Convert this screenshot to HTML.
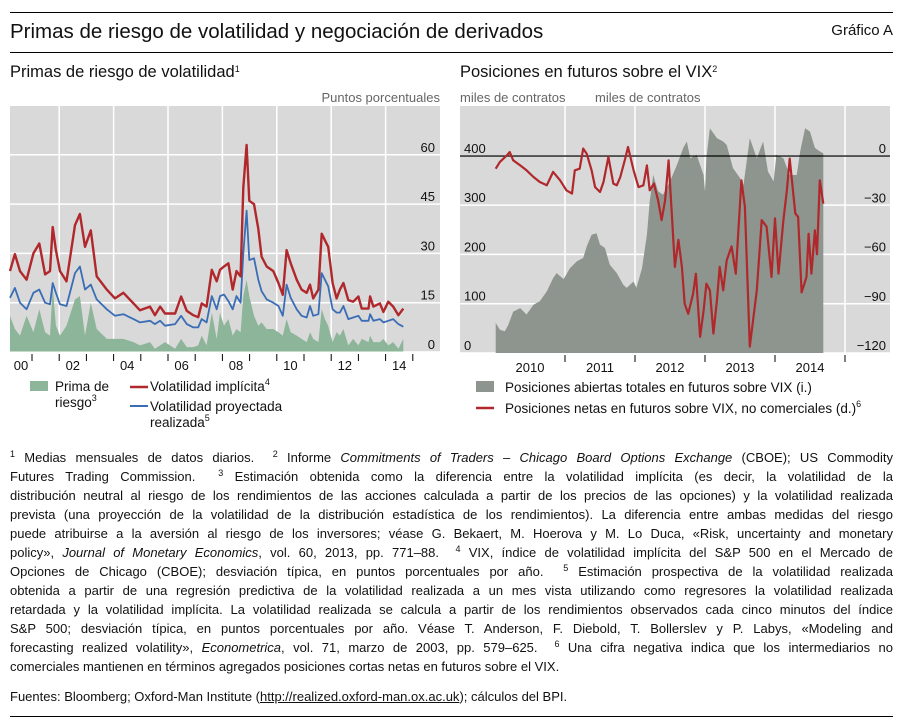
<!DOCTYPE html>
<html><head><meta charset="utf-8">
<style>
body{margin:0;background:#fff;width:905px;height:721px;overflow:hidden;font-family:"Liberation Sans",sans-serif;position:relative}
.rule{position:absolute;left:10px;width:883px;background:#000}
#title{position:absolute;left:10px;top:20px;font-size:20.5px;color:#111}
#grafico{position:absolute;right:12px;top:22px;font-size:15px;color:#111}
.sub{position:absolute;top:63px;font-size:16.5px;color:#111}
sup{font-size:9px;line-height:0;vertical-align:5px}
#notes{position:absolute;left:10px;top:448px;width:883px;font-size:13px;line-height:19px;color:#111}
#notes div{height:19px;text-align:justify;text-align-last:justify;white-space:nowrap;overflow:hidden}
#notes div.last{text-align-last:left}
#src{position:absolute;left:10px;top:689px;font-size:13px;color:#111}
svg{position:absolute;left:0;top:0}
</style></head><body>
<div class="rule" style="top:12px;height:1px"></div>
<div id="title">Primas de riesgo de volatilidad y negociación de derivados</div>
<div id="grafico">Gráfico A</div>
<div class="rule" style="top:52px;height:1px"></div>
<div class="sub" style="left:10px">Primas de riesgo de volatilidad<sup>1</sup></div>
<div class="sub" style="left:460px">Posiciones en futuros sobre el VIX<sup>2</sup></div>

<svg id="chart" width="905" height="440" font-family="Liberation Sans, sans-serif"></svg>

<div id="notes">
<div><sup>1</sup> Medias mensuales de datos diarios. &nbsp;<sup>2</sup> Informe <i>Commitments of Traders – Chicago Board Options Exchange</i> (CBOE); US Commodity</div>
<div>Futures Trading Commission. &nbsp;<sup>3</sup> Estimación obtenida como la diferencia entre la volatilidad implícita (es decir, la volatilidad de la</div>
<div>distribución neutral al riesgo de los rendimientos de las acciones calculada a partir de los precios de las opciones) y la volatilidad realizada</div>
<div>prevista (una proyección de la volatilidad de la distribución estadística de los rendimientos). La diferencia entre ambas medidas del riesgo</div>
<div>puede atribuirse a la aversión al riesgo de los inversores; véase G. Bekaert, M. Hoerova y M. Lo Duca, «Risk, uncertainty and monetary</div>
<div>policy», <i>Journal of Monetary Economics</i>, vol. 60, 2013, pp. 771–88. &nbsp;<sup>4</sup> VIX, índice de volatilidad implícita del S&amp;P 500 en el Mercado de</div>
<div>Opciones de Chicago (CBOE); desviación típica, en puntos porcentuales por año. &nbsp;<sup>5</sup> Estimación prospectiva de la volatilidad realizada</div>
<div>obtenida a partir de una regresión predictiva de la volatilidad realizada a un mes vista utilizando como regresores la volatilidad realizada</div>
<div>retardada y la volatilidad implícita. La volatilidad realizada se calcula a partir de los rendimientos observados cada cinco minutos del índice</div>
<div>S&amp;P 500; desviación típica, en puntos porcentuales por año. Véase T. Anderson, F. Diebold, T. Bollerslev y P. Labys, «Modeling and</div>
<div>forecasting realized volatility», <i>Econometrica</i>, vol. 71, marzo de 2003, pp. 579–625. &nbsp;<sup>6</sup> Una cifra negativa indica que los intermediarios no</div>
<div class="last">comerciales mantienen en términos agregados posiciones cortas netas en futuros sobre el VIX.</div>
</div>
<div id="src">Fuentes: Bloomberg; Oxford-Man Institute (<u>http://realized.oxford-man.ox.ac.uk</u>); cálculos del BPI.</div>
<div class="rule" style="top:716px;height:1px"></div>

<script>
// Left panel data (decimal years, percentage points)
const volDates=[2000.19,2000.37,2000.56,2000.80,2001.05,2001.27,2001.48,2001.66,2001.76,2001.88,2002.03,2002.27,2002.58,2002.76,2002.95,2003.16,2003.38,2003.75,2004.05,2004.36,2004.73,2004.97,2005.34,2005.52,2005.71,2005.89,2006.26,2006.48,2006.69,2006.93,2007.11,2007.24,2007.42,2007.61,2007.79,2007.91,2008.06,2008.22,2008.38,2008.52,2008.67,2008.77,2008.89,2008.99,2009.16,2009.32,2009.44,2009.63,2009.87,2010.06,2010.22,2010.36,2010.51,2010.73,2010.91,2011.10,2011.22,2011.34,2011.53,2011.65,2011.77,2011.89,2012.05,2012.20,2012.32,2012.45,2012.63,2012.81,2013.00,2013.12,2013.37,2013.43,2013.55,2013.79,2013.92,2014.10,2014.28,2014.47,2014.65];
const implied=[24.6,29.8,24.6,22,30,33,23.6,24.6,38,31,24.6,21.5,38.6,42,32,37,23,19,16.3,18,14.8,12.7,13.8,11.2,13.8,11.7,11.7,16.9,12.5,11.2,10.6,14.8,13.8,25,21.5,25,26,27,19,24.6,23,50,63,46,45,37.5,29,26,24.6,21,17.4,31,27,22,19,18,20.5,16.3,19,36,34,32,21,16.3,19,21,15.8,15.3,16.9,13.2,13.2,16.9,13.8,14.8,12.2,15.3,13.8,11.2,13.2];
const realized=[16.5,19.5,15,13,18,19,15,14.5,21,18,14.5,14,24,26,19,20.5,16,13,11,11.5,10,9,9.5,8.5,9.5,8,8.5,11,8.5,7.5,7.5,10,9,17,13,17,17.5,15.5,13,17,15,30,43,28,28.5,22,18.5,16,15,14,11,20.5,16.5,13,11,10.5,14,11,11.5,24,22,20,13,12,12,14,10,10.5,11,9.5,9.5,11.5,9.5,10,9,9.5,10,8.5,7.7];
const premium=[11,7,5,11,6,13,6,5,20,8,5,8,16,17,5,15,7,4,4,4,3,2,3,1,2,3,1,4,1.5,1.5,2,5,2,12,4,12,8,10,5,7,6,17,22,17,11,8,9,7,7,6,5,10,6,5,4,3,6,4,3,13,10,8,3,6,5,7,2,4,2,4,3,5,3,3,4,2,3,1,4];
const leftTicks=[0,15,30,45,60];
const leftYearLabels=["00","02","04","06","08","10","12","14"];

// Right panel data
const oiDates=[2010.01,2010.07,2010.14,2010.19,2010.26,2010.36,2010.45,2010.55,2010.64,2010.74,2010.83,2010.88,2010.98,2011.07,2011.17,2011.26,2011.31,2011.38,2011.45,2011.50,2011.57,2011.64,2011.74,2011.83,2011.88,2011.98,2012.02,2012.10,2012.17,2012.21,2012.26,2012.33,2012.40,2012.50,2012.60,2012.69,2012.74,2012.79,2012.88,2012.98,2013.00,2013.02,2013.07,2013.17,2013.26,2013.31,2013.40,2013.50,2013.55,2013.64,2013.74,2013.83,2013.90,2013.98,2014.02,2014.12,2014.21,2014.31,2014.36,2014.43,2014.50,2014.57,2014.64,2014.69];
const openInterest=[61,47,44,57,84,91,78,98,105,125,152,162,150,172,186,193,216,240,243,220,213,179,162,139,132,145,132,172,240,307,361,328,321,348,382,416,429,395,402,361,328,395,456,436,429,422,375,355,341,436,395,429,368,348,402,395,361,361,409,456,449,416,409,405];
const netDates=[2010.01,2010.07,2010.17,2010.21,2010.26,2010.36,2010.45,2010.55,2010.64,2010.74,2010.83,2010.93,2011.02,2011.10,2011.14,2011.21,2011.26,2011.31,2011.38,2011.43,2011.50,2011.55,2011.62,2011.69,2011.74,2011.79,2011.86,2011.90,2011.98,2012.05,2012.12,2012.17,2012.21,2012.27,2012.33,2012.38,2012.43,2012.48,2012.52,2012.57,2012.62,2012.67,2012.71,2012.76,2012.83,2012.87,2012.93,2012.98,2013.02,2013.07,2013.12,2013.17,2013.21,2013.26,2013.31,2013.38,2013.44,2013.52,2013.57,2013.64,2013.74,2013.81,2013.88,2013.95,2014.00,2014.05,2014.12,2014.17,2014.21,2014.29,2014.33,2014.38,2014.45,2014.48,2014.52,2014.57,2014.60,2014.64,2014.69];
const netPositions=[-7.7,-3.6,0.4,2.4,-2.6,-5.7,-8.7,-12.8,-15.8,-17.8,-9.7,-14.8,-20.9,-22.9,-8.7,-7.7,4.5,1.4,-8.7,-18.9,-21.9,-15.8,-0.6,-16.8,-17.8,-12.8,-1.6,5.5,-8.7,-18.9,-17.8,-5.7,-20.9,-16.8,-27,-39,-27,-2.6,-31,-67.5,-51,-67.5,-90,-96,-83.8,-71.6,-110,-94,-77.7,-81.8,-108,-88,-67.5,-81.8,-63.5,-55,-71.6,-14.8,-31,-116,-81.8,-39,-43,-73.6,-38,-71.6,-39,-20.9,-1.6,-35,-37,-83,-73.6,-47.3,-71.6,-45.3,-59.8,-14.8,-29];
const rightLeftTicks=[0,100,200,300,400];
const rightRightTicks=[0,-30,-60,-90,-120];
const rightYears=[2010,2011,2012,2013,2014];

const NS="http://www.w3.org/2000/svg";
const svg=document.getElementById('chart');
function mk(tag,attrs,parent){const e=document.createElementNS(NS,tag);for(const k in attrs)e.setAttribute(k,attrs[k]);(parent||svg).appendChild(e);return e;}
function txt(s,x,y,anchor,size,fill,sup){const t=mk('text',{x:x,y:y,'text-anchor':anchor,'font-size':size,fill:fill});t.appendChild(document.createTextNode(s));if(sup){const ts=document.createElementNS(NS,'tspan');ts.setAttribute('font-size',9);ts.setAttribute('dy',-6);ts.textContent=sup;t.appendChild(ts);}return t;}

// ---- Left panel
const L={x0:10,x1:440,y0:106,y1:352};
const lx=d=>32+(d-2001)*27.2;
const ly=v=>352-v*49.3/15;
let g=mk('g',{});


let r=mk('rect',{x:L.x0,y:L.y0,width:L.x1-L.x0,height:L.y1-L.y0,fill:'#d9d9d9'},g);

leftTicks.forEach(v=>{let l=mk('line',{x1:L.x0,x2:L.x1,y1:ly(v),y2:ly(v),stroke:'#fff','stroke-width':1.5},g);
 
 let t=txt(String(v),435,ly(v)-3,'end',13,'#111');g.appendChild(t);});
for(let yr=2002;yr<=2014;yr+=2){let l=mk('line',{x1:lx(yr),x2:lx(yr),y1:L.y0,y2:L.y1,stroke:'#fff','stroke-width':1.5},g);}
function areaPath(dates,vals,xf,yf,base){let d='M'+xf(dates[0])+','+base;dates.forEach((dt,i)=>d+='L'+xf(dt).toFixed(1)+','+yf(vals[i]).toFixed(1));d+='L'+xf(dates[dates.length-1])+','+base+'Z';return d;}
function linePath(dates,vals,xf,yf){return dates.map((dt,i)=>(i?'L':'M')+xf(dt).toFixed(1)+','+yf(vals[i]).toFixed(1)).join('');}
let a=mk('path',{d:areaPath(volDates,premium,lx,ly,ly(0)),fill:'#8db59a'},g);
let p=mk('path',{d:linePath(volDates,realized,lx,ly),fill:'none',stroke:'#3a6db5','stroke-width':1.8,'stroke-linejoin':'round'},g);
p=mk('path',{d:linePath(volDates,implied,lx,ly),fill:'none',stroke:'#b0282b','stroke-width':2.4,'stroke-linejoin':'round'},g);
mk('line',{x1:L.x0,x2:L.x1,y1:L.y1,y2:L.y1,stroke:'#fff','stroke-width':1},g);
for(let yr=2001;yr<=2015;yr++){let l=mk('line',{x1:lx(yr),x2:lx(yr),y1:354,y2:361,stroke:'#000','stroke-width':1},g);}
leftYearLabels.forEach((s,i)=>{let yr=2000+2*i;let t=txt(s,i===0?21:lx(yr)+13.6,370,'middle',13,'#111');g.appendChild(t);});
let t=txt('Puntos porcentuales',440,102,'end',13,'#666');

// ---- Right panel
const R={x0:460,x1:890,y0:106,y1:353};
const rx=d=>495+(d-2010)*70;
const ryL=v=>353-v*0.493;
const ryR=v=>156-v*49.3/30;
g=mk('g',{});


r=mk('rect',{x:R.x0,y:R.y0,width:R.x1-R.x0,height:R.y1-R.y0,fill:'#d9d9d9'},g);

rightLeftTicks.forEach(v=>{let l=mk('line',{x1:R.x0,x2:R.x1,y1:ryL(v),y2:ryL(v),stroke:'#fff','stroke-width':1.5},g);});
rightYears.forEach(yr=>{let l=mk('line',{x1:rx(yr+1),x2:rx(yr+1),y1:R.y0,y2:R.y1,stroke:'#fff','stroke-width':1.5},g);});
a=mk('path',{d:areaPath(oiDates,openInterest,rx,ryL,ryL(0)),fill:'#8e958e'},g);
let z=mk('line',{x1:R.x0,x2:R.x1,y1:ryR(0),y2:ryR(0),stroke:'#000','stroke-width':1.2},g);
p=mk('path',{d:linePath(netDates,netPositions,rx,ryR),fill:'none',stroke:'#b0282b','stroke-width':2.2,'stroke-linejoin':'round'},g);
rightLeftTicks.forEach(v=>{let t=txt(String(v),464,ryL(v)-3,'start',13,'#111');g.appendChild(t);});
rightRightTicks.forEach(v=>{let t=txt(v===0?'0':'\u2212'+Math.abs(v),886,ryR(v)-3,'end',13,'#111');g.appendChild(t);});
rightYears.forEach(yr=>{let l=mk('line',{x1:rx(yr+1),x2:rx(yr+1),y1:355,y2:362,stroke:'#000','stroke-width':1},g);
 let t=txt(String(yr),rx(yr)+35,372,'middle',13,'#111');g.appendChild(t);});
t=txt('miles de contratos',460,102,'start',13,'#666');
t=txt('miles de contratos',595,102,'start',13,'#666');

// ---- Legends
g=mk('g',{});


r=mk('rect',{x:30,y:381,width:18,height:10,fill:'#8db59a'},g);
t=txt('Prima de',55,391,'start',13.5,'#111');
t=txt('riesgo',55,407,'start',13.5,'#111','3');
r=mk('line',{x1:130,x2:148,y1:387,y2:387,stroke:'#b0282b','stroke-width':2.5},g);
t=txt('Volatilidad implícita',150,391,'start',13.5,'#111','4');
r=mk('line',{x1:130,x2:148,y1:406,y2:406,stroke:'#3a6db5','stroke-width':2},g);
t=txt('Volatilidad proyectada',150,411,'start',13.5,'#111');
t=txt('realizada',150,427,'start',13.5,'#111','5');
g=mk('g',{});


r=mk('rect',{x:476,y:381,width:18,height:11,fill:'#8e958e'},g);
t=txt('Posiciones abiertas totales en futuros sobre VIX (i.)',505,392,'start',13.5,'#111');
r=mk('line',{x1:476,x2:494,y1:408,y2:408,stroke:'#b0282b','stroke-width':2.5},g);
t=txt('Posiciones netas en futuros sobre VIX, no comerciales (d.)',505,413,'start',13.5,'#111','6');
</script>
</body></html>
